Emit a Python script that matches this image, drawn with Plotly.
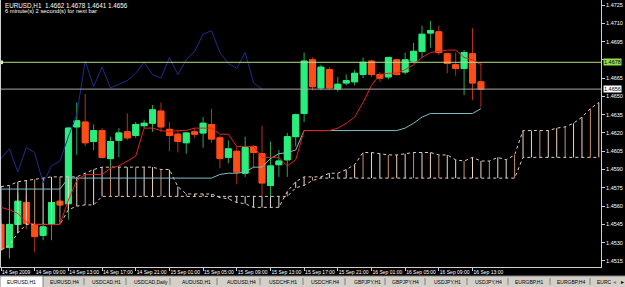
import plotly.graph_objects as go

# ---------------- data ----------------
bars = list(range(58))
opens = [1.4545, 1.4526, 1.4545, 1.4563, 1.4545, 1.4536, 1.4545, 1.4564, 1.4562, 1.4625,
         1.4629, 1.4613, 1.4622, 1.4599, 1.4614, 1.4621, 1.4618, 1.4626, 1.4628, 1.4638,
         1.4623, 1.4619, 1.4612, 1.4621, 1.4620, 1.4627, 1.4616, 1.4600, 1.4605, 1.4587,
         1.4609, 1.4603, 1.4577, 1.4594, 1.4598, 1.4617, 1.4636, 1.4680, 1.4657, 1.4672,
         1.4656, 1.4661, 1.4662, 1.4668, 1.4679, 1.4668, 1.4666, 1.4680, 1.4670, 1.4679,
         1.4687, 1.4702, 1.4703, 1.4685, 1.4676, 1.4673, 1.4685, 1.4662]
highs = [1.4549, 1.4549, 1.4571, 1.4568, 1.4546, 1.4546, 1.4565, 1.4565, 1.4625, 1.4645,
         1.4652, 1.4627, 1.4624, 1.4617, 1.4624, 1.4636, 1.4629, 1.4631, 1.4643, 1.4645,
         1.4629, 1.4622, 1.4621, 1.4624, 1.4633, 1.4640, 1.4618, 1.4614, 1.4609, 1.4617,
         1.4610, 1.4626, 1.4613, 1.4606, 1.4620, 1.4636, 1.4686, 1.4682, 1.4676, 1.4674,
         1.4666, 1.4668, 1.4672, 1.4682, 1.4680, 1.4670, 1.4682, 1.4680, 1.4686, 1.4694,
         1.4708, 1.4712, 1.4708, 1.4686, 1.4686, 1.4688, 1.4706, 1.4678]
lows = [1.4523, 1.4517, 1.4538, 1.4541, 1.4522, 1.4532, 1.4532, 1.4560, 1.4549, 1.4602,
        1.4609, 1.4606, 1.4599, 1.4591, 1.4600, 1.4614, 1.4616, 1.4624, 1.4621, 1.4621,
        1.4605, 1.4604, 1.4603, 1.4616, 1.4608, 1.4612, 1.4591, 1.4595, 1.4578, 1.4584,
        1.4591, 1.4568, 1.4568, 1.4584, 1.4584, 1.4609, 1.4629, 1.4655, 1.4655, 1.4655,
        1.4654, 1.4659, 1.4659, 1.4665, 1.4666, 1.4662, 1.4664, 1.4667, 1.4668, 1.4677,
        1.4682, 1.4690, 1.4684, 1.4669, 1.4667, 1.4651, 1.4647, 1.4641]
closes = [1.4525, 1.4545, 1.4564, 1.4546, 1.4535, 1.4543, 1.4563, 1.4561, 1.4624, 1.4630,
          1.4612, 1.4622, 1.4600, 1.4613, 1.4620, 1.4616, 1.4627, 1.4628, 1.4639, 1.4625,
          1.4618, 1.4613, 1.4620, 1.4619, 1.4628, 1.4615, 1.4599, 1.4607, 1.4588, 1.4608,
          1.4604, 1.4579, 1.4593, 1.4597, 1.4617, 1.4635, 1.4679, 1.4658, 1.4674, 1.4657,
          1.4660, 1.4663, 1.4669, 1.4678, 1.4668, 1.4665, 1.4682, 1.4668, 1.4680, 1.4687,
          1.4701, 1.4704, 1.4686, 1.4677, 1.4673, 1.4686, 1.4661, 1.4656]
tenkan = [1.4559, 1.4557, 1.4554, 1.4547, 1.4545, 1.4545, 1.4545, 1.4545, 1.4565, 1.4581,
          1.4586, 1.4586, 1.4586, 1.4591, 1.4593, 1.4597, 1.4601, 1.4624, 1.4624, 1.4622,
          1.4621, 1.4622, 1.4622, 1.4624, 1.4624, 1.4624, 1.4619, 1.4619, 1.4609, 1.4609,
          1.4609, 1.4600, 1.4600, 1.4600, 1.4593, 1.4598, 1.4622, 1.4622, 1.4622, 1.4622,
          1.4624, 1.4628, 1.4633, 1.4645, 1.4659, 1.4668, 1.4669, 1.4669, 1.4672, 1.4676,
          1.4682, 1.4686, 1.4687, 1.4688, 1.4688, 1.4682, 1.4680, 1.4676]
kijun = [1.4574, 1.4574, 1.4574, 1.4574, 1.4574, 1.4574, 1.4574, 1.4574, 1.4583, 1.4583,
         1.4583, 1.4583, 1.4583, 1.4583, 1.4583, 1.4583, 1.4583, 1.4583, 1.4583, 1.4583,
         1.4583, 1.4583, 1.4583, 1.4583, 1.4583, 1.4583, 1.4586, 1.4587, 1.4587, 1.4588,
         1.4592, 1.4592, 1.4599, 1.4603, 1.4604, 1.4606, 1.4622, 1.4622, 1.4622, 1.4622,
         1.4622, 1.4622, 1.4622, 1.4622, 1.4622, 1.4622, 1.4622, 1.4622, 1.4624, 1.4628,
         1.4633, 1.4636, 1.4636, 1.4636, 1.4636, 1.4636, 1.4636, 1.4640]
# Senkou spans as displayed (already shifted 26 bars forward), positions 0..71
cloud_pos = list(range(72))
span_a = [1.4576, 1.4577, 1.4580, 1.4581, 1.4582, 1.4583, 1.4584, 1.4584, 1.4584, 1.4584,
          1.4587, 1.4590, 1.4592, 1.4592, 1.4592, 1.4592, 1.4592, 1.4592, 1.4592, 1.4590,
          1.4590, 1.4576, 1.4570, 1.4570, 1.4570, 1.4570, 1.4567, 1.4566, 1.4563, 1.4562,
          1.4559, 1.4559, 1.4559, 1.4559, 1.4572, 1.4580, 1.4584, 1.4584, 1.4584, 1.4587,
          1.4587, 1.4590, 1.4594, 1.4604, 1.4604, 1.4603, 1.4602, 1.4602, 1.4603, 1.4604,
          1.4604, 1.4604, 1.4602, 1.4602, 1.4598, 1.4597, 1.4600, 1.4597, 1.4597, 1.4600,
          1.4598, 1.4602, 1.4622, 1.4622, 1.4622, 1.4622, 1.4624, 1.4625, 1.4628, 1.4633,
          1.4640, 1.4645]
span_b = [1.4524, 1.4528, 1.4538, 1.4545, 1.4545, 1.4545, 1.4545, 1.4545, 1.4557, 1.4560,
          1.4561, 1.4561, 1.4568, 1.4568, 1.4568, 1.4568, 1.4568, 1.4568, 1.4568, 1.4568,
          1.4568, 1.4568, 1.4568, 1.4568, 1.4568, 1.4568, 1.4568, 1.4568, 1.4568, 1.4568,
          1.4568, 1.4568, 1.4568, 1.4568, 1.4568, 1.4575, 1.4577, 1.4581, 1.4583, 1.4583,
          1.4583, 1.4583, 1.4583, 1.4583, 1.4583, 1.4583, 1.4583, 1.4583, 1.4583, 1.4583,
          1.4583, 1.4583, 1.4583, 1.4583, 1.4583, 1.4583, 1.4583, 1.4583, 1.4583, 1.4583,
          1.4583, 1.4583, 1.4600, 1.4600, 1.4600, 1.4600, 1.4600, 1.4600, 1.4600, 1.4600,
          1.4600, 1.4600]
chikou_shift = 26
green_level = 1.4678
bid_level = 1.4656
time_ticks = [0, 4, 8, 12, 16, 20, 24, 28, 32, 36, 40, 44, 48, 52, 56]
time_labels = ["14 Sep 2009", "14 Sep 09:00", "14 Sep 13:00", "14 Sep 17:00", "14 Sep 21:00",
               "15 Sep 01:00", "15 Sep 05:00", "15 Sep 09:00", "15 Sep 13:00", "15 Sep 17:00",
               "15 Sep 21:00", "16 Sep 01:00", "16 Sep 05:00", "16 Sep 09:00", "16 Sep 13:00"]
price_ticks = [1.4515, 1.4530, 1.4545, 1.4560, 1.4575, 1.4590, 1.4605, 1.4620, 1.4635,
               1.4650, 1.4665, 1.4680, 1.4695, 1.4710, 1.4725]
header_line1 = "EURUSD,H1  1.4662 1.4678 1.4641 1.4656"
header_line2 = "6 minute(s) 2 second(s) for next bar"
tabs = ["EURUSD,H1", "EURUSD,H4", "USDCAD,H1", "USDCAD,Daily", "AUDUSD,H1", "AUDUSD,H4",
        "USDCHF,H1", "USDCHF,H4", "GBPJPY,H1", "GBPJPY,H4", "USDJPY,H1", "USDJPY,H4",
        "EURGBP,H1", "EURGBP,H4", "EURC"]

# ---------------- layout geometry (pixels) ----------------
W, H = 625, 287
PW, PH = 601, 267          # plot area
X0, X1 = -0.119, 71.26
Y0, Y1 = 1.451007, 1.47291
tab_text_x = [5, 48, 90, 132, 180, 225, 267, 309, 352, 390, 432, 473, 513, 555, 595]
tab_sep_x = [84, 126, 170, 217, 260, 303, 345, 385, 425, 467, 508, 550, 590]
FONT = "Liberation Sans"
BULL, BEAR = "#27ee7c", "#ff4d16"
BULL_WICK, BEAR_WICK = "#2aa85a", "#b8301a"


def pxx(x):
    return x / PW


def pxy(y):
    return 1 - y / PH


# price labels hidden behind the green level box in the reference
hidden_price_labels = [1.4680]

fig = go.Figure()

# wicks (dimmer) then bodies on top
fig.add_trace(go.Candlestick(
    x=bars, open=opens, high=highs, low=lows, close=closes,
    increasing=dict(line=dict(color=BULL_WICK, width=1), fillcolor=BULL),
    decreasing=dict(line=dict(color=BEAR_WICK, width=1), fillcolor=BEAR),
    whiskerwidth=0, hoverinfo="skip", showlegend=False))
body_hi = [max(o, c) for o, c in zip(opens, closes)]
body_lo = [min(o, c) for o, c in zip(opens, closes)]
fig.add_trace(go.Candlestick(
    x=bars, open=opens, high=body_hi, low=body_lo, close=closes,
    increasing=dict(line=dict(color=BULL, width=1), fillcolor=BULL),
    decreasing=dict(line=dict(color=BEAR, width=1), fillcolor=BEAR),
    whiskerwidth=0, hoverinfo="skip", showlegend=False))

# cloud verticals
groups = {"#f1d6c2": ([], []), "#c8906a": ([], []), "#e4d8e4": ([], [])}
for j in cloud_pos:
    if span_a[j] >= span_b[j]:
        col = "#c8906a" if j % 3 == 1 else "#f1d6c2"
    else:
        col = "#e4d8e4"
    gx, gy = groups[col]
    gx += [j, j, None]
    gy += [span_a[j], span_b[j], None]
for col, (gx, gy) in groups.items():
    fig.add_trace(go.Scatter(x=gx, y=gy, mode="lines", line=dict(color=col, width=1),
                             hoverinfo="skip", showlegend=False))
for sp in (span_a, span_b):
    fig.add_trace(go.Scatter(x=cloud_pos, y=sp, mode="lines",
                             line=dict(color="#e0cfc0", width=1, dash="dot"),
                             hoverinfo="skip", showlegend=False))

fig.add_trace(go.Scatter(x=bars, y=kijun, mode="lines", line=dict(color="#7fbcc6", width=1),
                         hoverinfo="skip", showlegend=False))
fig.add_trace(go.Scatter(x=[b - chikou_shift for b in bars], y=closes, mode="lines",
                         line=dict(color="#1f2d8c", width=1), hoverinfo="skip", showlegend=False))
fig.add_trace(go.Scatter(x=bars, y=tenkan, mode="lines", line=dict(color="#e3231b", width=1),
                         hoverinfo="skip", showlegend=False))

shapes = [
    dict(type="line", xref="paper", yref="y", x0=0, x1=1, y0=green_level, y1=green_level,
         line=dict(color="#b2de86", width=1)),
    dict(type="line", xref="paper", yref="y", x0=0, x1=1, y0=bid_level, y1=bid_level,
         line=dict(color="#a8a8a8", width=1)),
    dict(type="rect", xref="paper", yref="y", x0=0, x1=pxx(3),
         y0=green_level - 0.00015, y1=green_level + 0.00015,
         line=dict(width=0), fillcolor="#d8f0a0"),
    # frame
    dict(type="line", xref="paper", yref="paper", x0=pxx(0.5), x1=pxx(0.5), y0=0, y1=1,
         line=dict(color="#cfcfcf", width=1)),
    # tab bar
    dict(type="rect", xref="paper", yref="paper", x0=0, x1=W / PW,
         y0=pxy(287.5), y1=pxy(276), line=dict(width=0), fillcolor="#d4d0c8"),
    dict(type="line", xref="paper", yref="paper", x0=0, x1=W / PW,
         y0=pxy(276), y1=pxy(276), line=dict(color="#808080", width=1)),
    dict(type="rect", xref="paper", yref="paper", x0=0, x1=pxx(43),
         y0=pxy(287.5), y1=pxy(276), line=dict(color="#808080", width=1), fillcolor="#ffffff"),
]
for sx in tab_sep_x:
    shapes.append(dict(type="line", xref="paper", yref="paper", x0=pxx(sx), x1=pxx(sx),
                       y0=pxy(278), y1=pxy(285), line=dict(color="#808080", width=1)))

annotations = [
    dict(xref="paper", yref="paper", x=pxx(3), y=pxy(-0.5), xanchor="left", yanchor="top",
         text=header_line1, showarrow=False, font=dict(family=FONT, size=6.3, color="#ffffff")),
    dict(xref="paper", yref="paper", x=pxx(3), y=pxy(6.5), xanchor="left", yanchor="top",
         text=header_line2, showarrow=False, font=dict(family=FONT, size=5.8, color="#ffffff")),
    dict(xref="paper", yref="y", x=pxx(603), y=green_level, xanchor="left", yanchor="middle",
         text=f"{green_level:.4f}", showarrow=False, bgcolor="#92e04e", borderpad=0,
         font=dict(family=FONT, size=5.5, color="#000000")),
    dict(xref="paper", yref="y", x=pxx(603), y=bid_level, xanchor="left", yanchor="middle",
         text=f"{bid_level:.4f}", showarrow=False, bgcolor="#ffffff", borderpad=0,
         font=dict(family=FONT, size=5.5, color="#000000")),
]
for tx, name in zip(tab_text_x, tabs):
    annotations.append(dict(xref="paper", yref="paper", x=pxx(tx), y=pxy(281.5),
                            xanchor="left", yanchor="middle", text=name, showarrow=False,
                            font=dict(family=FONT, size=5, color="#000000")))
annotations.append(dict(xref="paper", yref="paper", x=pxx(611), y=pxy(281.5), xanchor="left",
                        yanchor="middle", text="◂", showarrow=False,
                        font=dict(family="DejaVu Sans", size=6, color="#808080")))
annotations.append(dict(xref="paper", yref="paper", x=pxx(619), y=pxy(281.5), xanchor="left",
                        yanchor="middle", text="▸", showarrow=False,
                        font=dict(family="DejaVu Sans", size=6, color="#000000")))

fig.update_layout(
    width=W, height=H, margin=dict(l=0, r=W - PW, t=0, b=H - PH),
    paper_bgcolor="#000000", plot_bgcolor="#000000", showlegend=False,
    shapes=shapes, annotations=annotations, hovermode=False,
    boxgap=0.3, boxgroupgap=0, boxmode="overlay",
    xaxis=dict(range=[X0, X1], rangeslider=dict(visible=False), showgrid=False,
               zeroline=False, showline=True, linecolor="#cfcfcf", linewidth=1,
               tickmode="array", tickvals=time_ticks, ticktext=time_labels,
               ticks="outside", ticklen=3, tickcolor="#cfcfcf", tickangle=0,
               ticklabelposition="outside right",
               tickfont=dict(family=FONT, size=5, color="#ffffff")),
    yaxis=dict(range=[Y0, Y1], side="right", showgrid=False, zeroline=False,
               showline=True, linecolor="#cfcfcf", linewidth=1,
               tickmode="array", tickvals=price_ticks,
               ticktext=["" if p in hidden_price_labels else f"{p:.4f}" for p in price_ticks],
               ticks="outside", ticklen=3, tickcolor="#cfcfcf",
               tickfont=dict(family=FONT, size=5.5, color="#ffffff")),
)

fig.write_html("out.html", config={"displayModeBar": False})
